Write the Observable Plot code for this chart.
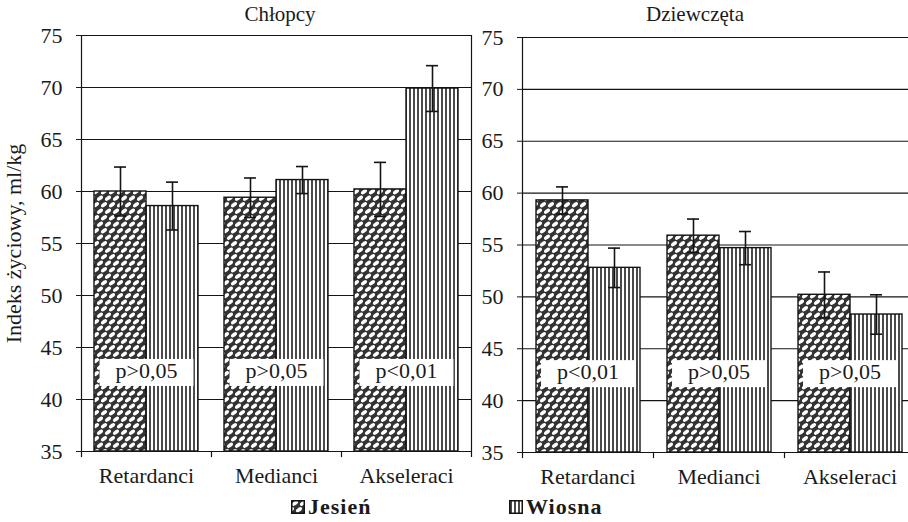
<!DOCTYPE html>
<html>
<head>
<meta charset="utf-8">
<script src="https://cdn.jsdelivr.net/npm/d3@7"></script>
<script src="https://cdn.jsdelivr.net/npm/@observablehq/plot@0.6"></script>
<style>
  html, body { margin: 0; padding: 0; background: #fff; overflow: hidden; }
  #fig { position: relative; width: 908px; height: 522px; overflow: hidden;
         font-family: "Liberation Serif", "Times New Roman", serif; color: #1a1a1a; }
  .panel { position: absolute; top: 0; }
  .ttl { position: absolute; top: 1px; font-size: 21px; line-height: 26px;
         transform: translateX(-50%); white-space: nowrap; }
  .legend-item { position: absolute; top: 494px; display: flex; align-items: center;
                 font-size: 22px; line-height: 26px; font-weight: bold; letter-spacing: 1px; }
  .legend-item svg { margin-right: 3px; }
</style>
</head>
<body>
<!-- fill patterns shared by the bars and the legend swatches -->
<svg width="0" height="0" style="position:absolute">
  <defs>
    <pattern id="pat-jesien" width="8" height="13" patternUnits="userSpaceOnUse">
      <rect width="8" height="13" fill="#333"/>
      <ellipse cx="4" cy="3.25" rx="3.4" ry="1.9" transform="rotate(-35 4 3.25)" fill="#fff"/>
      <ellipse cx="0" cy="9.75" rx="3.4" ry="1.9" transform="rotate(-35 0 9.75)" fill="#fff"/>
      <ellipse cx="8" cy="9.75" rx="3.4" ry="1.9" transform="rotate(-35 8 9.75)" fill="#fff"/>
    </pattern>
    <pattern id="pat-wiosna" width="4" height="4" patternUnits="userSpaceOnUse">
      <rect width="4" height="4" fill="#fff"/>
      <rect x="1.2" y="0" width="1.6" height="4" fill="#1e1e1e"/>
    </pattern>
  </defs>
</svg>

<div id="fig"></div>

<script>
// Groups along the x axis and the two measurement seasons
const categories = ["Retardanci", "Medianci", "Akseleraci"];
const seasons = ["Jesień", "Wiosna"];
const yDomain = [35, 75];
const yTicks = [35, 40, 45, 50, 55, 60, 65, 70, 75];

// Chłopcy: means and error half-widths (ml/kg)
const boysAutumn = [60.0, 59.4, 60.2];
const boysAutumnErr = [2.35, 1.9, 2.6];
const boysSpring = [58.6, 61.1, 69.9];
const boysSpringErr = [2.3, 1.3, 2.2];
const boysP = ["p>0,05", "p>0,05", "p<0,01"];

// Dziewczęta: means and error half-widths (ml/kg)
const girlsAutumn = [59.3, 55.9, 50.2];
const girlsAutumnErr = [1.3, 1.6, 2.2];
const girlsSpring = [52.8, 54.7, 48.3];
const girlsSpringErr = [1.9, 1.6, 1.9];
const girlsP = ["p<0,01", "p>0,05", "p>0,05"];

const pLabelY = 42.75;
const H = 490;

function rows(autumn, autumnErr, spring, springErr) {
  return categories.flatMap((c, i) => [
    {group: c, season: seasons[0], value: autumn[i], err: autumnErr[i]},
    {group: c, season: seasons[1], value: spring[i], err: springErr[i]}
  ]);
}

function panel({data, pvals, left, width, marginLeft, marginTop, marginBottom, yLabel}) {
  const plotH = H - marginTop - marginBottom;
  const pData = categories.map((c, i) => ({group: c, p: pvals[i]}));
  const ink = "#141414";
  const svg = Plot.plot({
    width, height: H, marginLeft, marginRight: 9, marginTop, marginBottom,
    style: {fontFamily: '"Liberation Serif", "Times New Roman", serif', fontSize: "22px",
            color: "#1a1a1a", background: "transparent", overflow: "visible"},
    fx: {domain: categories, padding: 0, label: null, tickSize: 0, tickPadding: 16},
    x: {domain: seasons, axis: null, paddingInner: 0, paddingOuter: 0.24},
    y: {domain: yDomain, ticks: yTicks, tickSize: 5, tickPadding: 14,
        label: yLabel, labelAnchor: "center", labelOffset: 76, labelArrow: "none"},
    color: {domain: seasons, range: ["url(#pat-jesien)", "url(#pat-wiosna)"]},
    marks: [
      Plot.gridY(yTicks, {stroke: ink, strokeOpacity: 1, strokeWidth: 1.2}),
      // small ticks under the baseline at each group boundary
      Plot.frame({anchor: "left", insetTop: plotH, insetBottom: -5, stroke: ink, strokeWidth: 1.2}),
      // y axis line and the right border of the panel
      Plot.frame({anchor: "left", fx: [categories[0]], stroke: ink, strokeWidth: 1.2}),
      Plot.frame({anchor: "right", fx: [categories[categories.length - 1]], insetBottom: -5, stroke: ink, strokeWidth: 1.2}),
      Plot.barY(data, {fx: "group", x: "season", y1: yDomain[0], y2: "value", fill: "season",
                       stroke: ink, strokeWidth: 1.4}),
      Plot.ruleX(data, {fx: "group", x: "season", y1: d => d.value - d.err, y2: d => d.value + d.err,
                        stroke: ink, strokeWidth: 1.6}),
      Plot.tickY(data, {fx: "group", x: "season", y: d => d.value + d.err,
                        insetLeft: 20, insetRight: 20, stroke: ink, strokeWidth: 1.6}),
      Plot.tickY(data, {fx: "group", x: "season", y: d => d.value - d.err,
                        insetLeft: 20, insetRight: 20, stroke: ink, strokeWidth: 1.6}),
      Plot.text(pData, {fx: "group", y: pLabelY, text: "p", fill: "#1a1a1a", fontSize: 22})
    ]
  });
  svg.classList.add("panel");
  svg.style.left = left + "px";
  document.getElementById("fig").appendChild(svg);

  // white boxes behind the significance labels (the text mark's group)
  svg.querySelectorAll('g[aria-label="text"] text').forEach(t => {
    const b = t.getBBox();
    const r = document.createElementNS("http://www.w3.org/2000/svg", "rect");
    r.setAttribute("x", b.x - 16);
    r.setAttribute("y", b.y + 1);
    r.setAttribute("width", b.width + 32);
    r.setAttribute("height", b.height + 2);
    r.setAttribute("fill", "#fff");
    const tr = t.getAttribute("transform");
    if (tr) r.setAttribute("transform", tr);
    t.parentNode.insertBefore(r, t);
  });
}

panel({data: rows(boysAutumn, boysAutumnErr, boysSpring, boysSpringErr), pvals: boysP,
       left: 0, width: 480, marginLeft: 81, marginTop: 35, marginBottom: 39,
       yLabel: "Indeks życiowy, ml/kg"});
panel({data: rows(girlsAutumn, girlsAutumnErr, girlsSpring, girlsSpringErr), pvals: girlsP,
       left: 471, width: 453, marginLeft: 51, marginTop: 37, marginBottom: 38,
       yLabel: null});

// panel titles
const fig = document.getElementById("fig");
[["Chłopcy", 280], ["Dziewczęta", 695]].forEach(([t, x]) => {
  const d = document.createElement("div");
  d.className = "ttl";
  d.style.left = x + "px";
  d.textContent = t;
  fig.appendChild(d);
});

// legend
[[seasons[0], "pat-jesien", 291], [seasons[1], "pat-wiosna", 509]].forEach(([name, pat, x]) => {
  const d = document.createElement("div");
  d.className = "legend-item";
  d.style.left = x + "px";
  d.innerHTML = `<svg width="14" height="14"><rect x="0.75" y="0.75" width="12.5" height="12.5"
    fill="url(#${pat})" stroke="#141414" stroke-width="1.5"/></svg><span></span>`;
  d.querySelector("span").textContent = name;
  fig.appendChild(d);
});
</script>
</body>
</html>
